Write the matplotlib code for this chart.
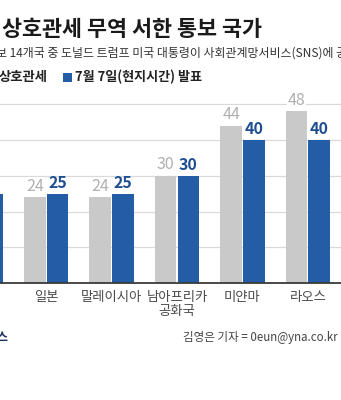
import matplotlib
matplotlib.use("Agg")
import matplotlib.pyplot as plt
import numpy as np

plt.rcParams['font.family'] = ['Noto Sans CJK KR', 'DejaVu Sans']

# Tariff rates (%) by country
countries = ['한국', '일본', '말레이시아', '남아프리카\n공화국', '미얀마', '라오스']
april_rates = [25, 24, 24, 30, 44, 48]   # reciprocal tariffs announced in April
july_rates = [25, 25, 25, 30, 40, 40]    # rates in the 7 July letters
grid_values = [10, 20, 30, 40, 50]

W, H = 341, 400
fig = plt.figure(figsize=(W / 100, H / 100), dpi=100)
fig.patch.set_facecolor('white')


def fx(x):
    return x / W


def fy(y):
    return 1 - y / H


GRAY = '#c9c9c9'
GRAY_TXT = '#b0b0b0'
BLUE = '#245ca6'
BLUE_TXT = '#1f4f91'

# plot area in pixels
base_y, unit_px = 283.3, 3.586
ymax = 55
left_px, right_px = -60, 345
ax = fig.add_axes([fx(left_px), fy(base_y), (right_px - left_px) / W, ymax * unit_px / H])

group_px = 65.4
x0_px = -19.2
xlim = ((left_px - x0_px) / group_px, (right_px - x0_px) / group_px)

x = np.arange(len(countries))
bw, off = 0.329, 0.174
ax.bar(x - off, april_rates, bw, color=GRAY, zorder=2)
ax.bar(x + off, july_rates, bw, color=BLUE, zorder=2)

for xi, a, j in zip(x, april_rates, july_rates):
    ax.text(xi - off, a + 0.7, f'{a}', ha='center', va='bottom', fontsize=11.5,
            color=GRAY_TXT, zorder=4,
            bbox=dict(facecolor='white', edgecolor='none', pad=0.5))
    ax.text(xi + off, j + 0.7, f'{j}', ha='center', va='bottom', fontsize=11.5,
            color=BLUE_TXT, fontweight='bold', zorder=4)

ax.set_xlim(*xlim)
ax.set_ylim(0, ymax)
ax.set_yticks(grid_values)
ax.set_yticklabels([])
ax.tick_params(axis='y', length=0)
ax.grid(axis='y', color='#d9d9d9', linewidth=0.9, zorder=0)
ax.set_xticks(x)
ax.set_xticklabels(countries, fontsize=9.6, color='#4a4a4a', linespacing=1.0)
ax.tick_params(axis='x', length=0, pad=5)
for side in ('left', 'right', 'top'):
    ax.spines[side].set_visible(False)
ax.spines['bottom'].set_color('#3a3a3a')
ax.spines['bottom'].set_linewidth(1.3)
ax.spines['bottom'].set_zorder(3)
ax.set_facecolor('none')

# headings
fig.text(fx(2), fy(29), '상호관세 무역 서한 통보 국가', fontsize=15.7, fontweight='bold',
         color='#1a1a1a', ha='left', va='center')
fig.text(fx(-4), fy(53), '보 14개국 중 도널드 트럼프 미국 대통령이 사회관계망서비스(SNS)에 공개한',
         fontsize=8.6, color='#333333', ha='left', va='center')

# legend row
fig.text(fx(-1), fy(77), '상호관세', fontsize=9.6, fontweight='bold', color='#222222',
         ha='left', va='center')
fig.patches.append(matplotlib.patches.Rectangle((fx(63), fy(81.5)), fx(9), 9 / H,
                                                transform=fig.transFigure,
                                                facecolor=BLUE, edgecolor='none'))
fig.text(fx(75), fy(77), '7월 7일(현지시간) 발표', fontsize=9.4, fontweight='bold',
         color='#222222', ha='left', va='center')

# footer
fig.text(fx(9), fy(337), '뉴스', fontsize=9, fontweight='bold', color='#1b2f5c',
         ha='right', va='center')
fig.text(fx(338), fy(337), '김영은 기자 = 0eun@yna.co.kr', fontsize=8.3, color='#444444',
         ha='right', va='center')

fig.savefig('out.png', dpi=100, facecolor='white')
